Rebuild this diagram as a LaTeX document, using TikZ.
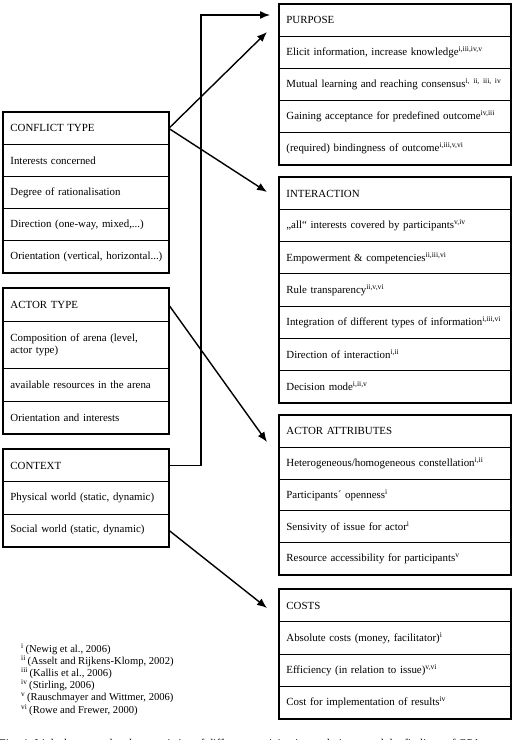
\documentclass[tikz,border=0pt]{standalone}
\usepackage{fontspec}
\setmainfont{Liberation Serif}
\usetikzlibrary{arrows.meta,calc}
\newcommand{\boxfont}{\fontsize{10.9}{12.5}\selectfont}
\newcommand{\nb}[1]{\mbox{#1}}
\newcommand{\fnm}[1]{\textsuperscript{#1}\,}
\begin{document}
\begin{tikzpicture}[x=1pt,y=-1pt,
  cellR/.style={draw, line width=0.8pt, anchor=north west, inner xsep=7pt, inner ysep=0pt,
    text width=217pt, align=left, minimum height=#1, font=\boxfont},
  cellR/.default=32pt,
  cellL/.style={draw, line width=0.8pt, anchor=north west, inner xsep=7pt, inner ysep=0pt,
    text width=151pt, align=left, minimum height=#1, font=\boxfont},
  cellL/.default=32pt,
  frame/.style={draw, line width=1.8pt},
  conn/.style={line width=1.4pt, -{Latex[length=10pt,width=8pt]}}]
\useasboundingbox (0,0) rectangle (512,740);
\clip (0,0) rectangle (512,740);
\fill[white] (0,0) rectangle (512,740);

% PURPOSE
\node[cellR] (p0) at (279,4) {PURPOSE};
\node[cellR] (p1) at (279,36) {\nb{Elicit information, increase knowledge\textsuperscript{i,iii,iv,v}}};
\node[cellR] (p2) at (279,68) {\nb{Mutual learning and reaching consensus\textsuperscript{i, ii, iii, iv}}};
\node[cellR] (p3) at (279,100) {\nb{Gaining acceptance for predefined outcome\textsuperscript{iv,iii}}};
\node[cellR] (p4) at (279,132) {\nb{(required) bindingness of outcome\textsuperscript{i,iii,v,vi}}};
\draw[frame] (p0.north west) rectangle (p4.south east);

% INTERACTION
\node[cellR=32.14pt] (i0) at (279,177) {INTERACTION};
\node[cellR=32.14pt] (i1) at (279,209.14) {\nb{„all“ interests covered by participants\textsuperscript{v,iv}}};
\node[cellR=32.14pt] (i2) at (279,241.28) {\nb{Empowerment \& competencies\textsuperscript{ii,iii,vi}}};
\node[cellR=32.14pt] (i3) at (279,273.43) {\nb{Rule transparency\textsuperscript{ii,v,vi}}};
\node[cellR=32.14pt] (i4) at (279,305.57) {\nb{Integration of different types of information\textsuperscript{i,iii,vi}}};
\node[cellR=32.14pt] (i5) at (279,337.71) {\nb{Direction of interaction\textsuperscript{i,ii}}};
\node[cellR=32.14pt] (i6) at (279,369.86) {\nb{Decision mode\textsuperscript{i,ii,v}}};
\draw[frame] (i0.north west) rectangle (i6.south east);

% ACTOR ATTRIBUTES
\node[cellR=31.8pt] (aa0) at (279,415) {ACTOR ATTRIBUTES};
\node[cellR=31.8pt] (aa1) at (279,446.8) {\nb{Heterogeneous/homogeneous constellation\textsuperscript{i,ii}}};
\node[cellR=31.8pt] (aa2) at (279,478.6) {\nb{Participants´ openness\textsuperscript{i}}};
\node[cellR=31.8pt] (aa3) at (279,510.4) {\nb{Sensivity of issue for actor\textsuperscript{i}}};
\node[cellR=31.8pt] (aa4) at (279,542.2) {\nb{Resource accessibility for participants\textsuperscript{v}}};
\draw[frame] (aa0.north west) rectangle (aa4.south east);

% COSTS
\node[cellR=32.25pt] (k0) at (279,589) {COSTS};
\node[cellR=32.25pt] (k1) at (279,621.25) {\nb{Absolute costs (money, facilitator)\textsuperscript{i}}};
\node[cellR=32.25pt] (k2) at (279,653.5) {\nb{Efficiency (in relation to issue)\textsuperscript{v,vi}}};
\node[cellR=32.25pt] (k3) at (279,685.75) {\nb{Cost for implementation of results\textsuperscript{iv}}};
\draw[frame] (k0.north west) rectangle (k3.south east);

% CONFLICT TYPE
\node[cellL] (c0) at (3,112) {CONFLICT TYPE};
\node[cellL] (c1) at (3,144) {\nb{Interests concerned}};
\node[cellL] (c2) at (3,176) {\nb{Degree of rationalisation}};
\node[cellL] (c3) at (3,208) {\nb{Direction (one-way, mixed,...)}};
\node[cellL] (c4) at (3,240) {\nb{Orientation (vertical, horizontal...)}};
\draw[frame] (c0.north west) rectangle (c4.south east);

% ACTOR TYPE
\node[cellL=33pt] (a0) at (3,288) {ACTOR TYPE};
\node[cellL=47pt] (a1) at (3,321) {\nb{Composition of arena (level,}\\ \nb{actor type)}};
\node[cellL=33pt] (a2) at (3,368) {\nb{available resources in the arena}};
\node[cellL=32pt] (a3) at (3,401) {\nb{Orientation and interests}};
\draw[frame] (a0.north west) rectangle (a3.south east);

% CONTEXT
\node[cellL=32.33pt] (x0) at (3,449) {CONTEXT};
\node[cellL=32.33pt] (x1) at (3,481.33) {\nb{Physical world (static, dynamic)}};
\node[cellL=32.33pt] (x2) at (3,513.67) {\nb{Social world (static, dynamic)}};
\draw[frame] (x0.north west) rectangle (x2.south east);

% connectors
\coordinate (vline) at (201,0);
\coordinate (tP1) at (270,15);
\coordinate (tP2) at (267,32);
\coordinate (tI) at (267,192);
\coordinate (tA) at (267,442);
\coordinate (tC) at (267,608);
\draw[conn] (c0.east) -- (tP2);
\draw[conn] (c0.east) -- (tI);
\draw[conn] (a0.east) -- (tA);
\draw[conn] (x2.east) -- (tC);
\draw[conn] (x0.east) -- (x0.east -| vline) |- (tP1);

% footnotes
\node[anchor=north west, align=left, inner sep=0pt, font=\fontsize{10.6}{12.2}\selectfont] (fn) at (21,643)
 {\fnm{i}(Newig et al., 2006)\\
  \fnm{ii}(Asselt and Rijkens-Klomp, 2002)\\
  \fnm{iii}(Kallis et al., 2006)\\
  \fnm{iv}(Stirling, 2006)\\
  \fnm{v}(Rauschmayer and Wittmer, 2006)\\
  \fnm{vi}(Rowe and Frewer, 2000)};

% caption (cut off at the bottom edge, as in the reference)
\node[anchor=base west, inner sep=0pt, font=\fontsize{11.8}{13}\selectfont] (cap) at (-1,747)
 {Fig. 4. Links between the characteristics of different participation techniques and the findings of GPA};
\end{tikzpicture}
\end{document}
